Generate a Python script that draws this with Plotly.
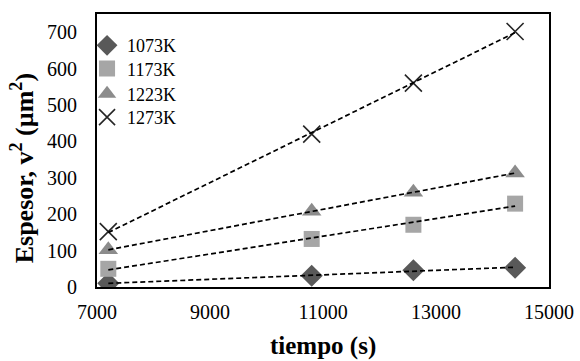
import numpy as np
import plotly.graph_objects as go

tiempo = [7200, 10800, 12600, 14400]
series_names = ["1073K", "1173K", "1223K", "1273K"]
v_1073 = [10, 31, 46, 53]
v_1173 = [50, 132, 171, 229]
v_1223 = [102, 208, 260, 313]
v_1273 = [152, 420, 560, 702]
x_ticks = [7000, 9000, 11000, 13000, 15000]
x_tick_text = ["7000", "9000", "11000", "13000", "15000"]
y_ticks = [0, 100, 200, 300, 400, 500, 600, 700]

values = [v_1073, v_1173, v_1223, v_1273]
symbols = ["diamond", "square", "triangle-up", "x-thin"]
colors = ["#595959", "#A6A6A6", "#8C8C8C", "#262626"]
sizes = [17, 16, 17, 17]
legend_ids = ["legend", "legend2", "legend3", "legend4"]
legend_y = [0.884, 0.799, 0.707, 0.621]

font = "Liberation Serif"
fig = go.Figure()
for name, vals, sym, col, sz, lg in zip(series_names, values, symbols, colors, sizes, legend_ids):
    marker = dict(symbol=sym, size=sz, color=col)
    if sym == "x-thin":
        marker["line"] = dict(color=col, width=1.6)
    fig.add_trace(go.Scatter(x=tiempo, y=vals, mode="markers", name=name, marker=marker,
                             legend=lg))

for vals in values:
    m, b = np.polyfit(tiempo, vals, 1)
    xs = [tiempo[0], tiempo[-1]]
    fig.add_trace(go.Scatter(x=xs, y=[m * xv + b for xv in xs], mode="lines",
                             line=dict(color="black", width=1.7, dash="5px,3px"),
                             showlegend=False, hoverinfo="skip"))

legend_common = dict(xanchor="left", yanchor="middle", bgcolor="rgba(0,0,0,0)",
                     font=dict(size=18, family=font, color="black"), itemwidth=30)
layout_legends = {}
for lg, ly in zip(legend_ids, legend_y):
    layout_legends[lg] = dict(x=-0.022, y=ly, **legend_common)

fig.update_layout(
    width=580, height=361,
    margin=dict(l=97, r=31, t=14, b=74, autoexpand=False),
    paper_bgcolor="white", plot_bgcolor="white",
    font=dict(family=font, size=20, color="black"),
    showlegend=True,
    annotations=[
        dict(text="<b>tiempo (s)</b>", xref="paper", yref="paper", x=0.5, y=-0.216,
             xanchor="center", yanchor="middle", showarrow=False,
             font=dict(size=25, family=font, color="black")),
        dict(text="<b>Espesor, v<sup>2</sup> (µm<sup>2</sup>)</b>", xref="paper", yref="paper",
             x=-0.163, y=0.436, xanchor="center", yanchor="middle", textangle=-90,
             showarrow=False, font=dict(size=26, family=font, color="black")),
    ],
    **layout_legends,
)
fig.update_xaxes(range=[7000, 15000], tickvals=x_ticks, ticktext=x_tick_text,
                 showgrid=False, zeroline=False, automargin=False,
                 showline=True, linecolor="black", linewidth=2, mirror=True,
                 ticks="", ticklabelstandoff=6)
fig.update_yaxes(range=[0, 750], tickvals=y_ticks, showgrid=False, zeroline=False,
                 automargin=False,
                 showline=True, linecolor="black", linewidth=2, mirror=True,
                 ticks="", ticklabelstandoff=14)

fig.write_html("out.html", config={"displayModeBar": False},
               post_script="document.body.style.margin='0';")
